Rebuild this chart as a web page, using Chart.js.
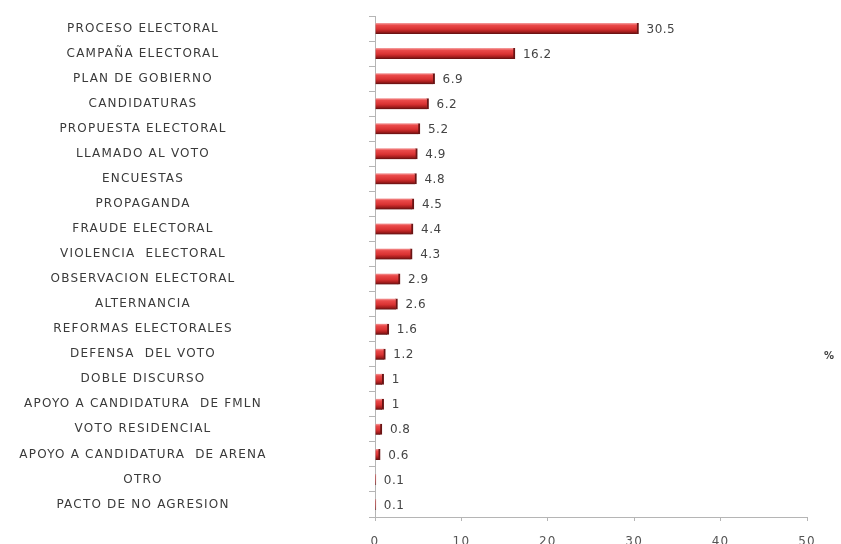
<!DOCTYPE html>
<html>
<head>
<meta charset="utf-8">
<script src="https://cdn.jsdelivr.net/npm/chart.js@4/dist/chart.umd.min.js"></script>
<style>
  html, body { margin: 0; padding: 0; background: #fff; }
  #wrap { width: 841px; height: 544px; position: relative; }
</style>
</head>
<body>
<div id="wrap"><canvas id="themesChart"></canvas></div>
<script>
// Temas de la campaña (%)
const categories = [
  'PROCESO ELECTORAL', 'CAMPAÑA ELECTORAL', 'PLAN DE GOBIERNO', 'CANDIDATURAS',
  'PROPUESTA ELECTORAL', 'LLAMADO AL VOTO', 'ENCUESTAS', 'PROPAGANDA',
  'FRAUDE ELECTORAL', 'VIOLENCIA  ELECTORAL', 'OBSERVACION ELECTORAL', 'ALTERNANCIA',
  'REFORMAS ELECTORALES', 'DEFENSA  DEL VOTO', 'DOBLE DISCURSO', 'APOYO A CANDIDATURA  DE FMLN',
  'VOTO RESIDENCIAL', 'APOYO A CANDIDATURA  DE ARENA', 'OTRO', 'PACTO DE NO AGRESION'
];
const percentages = [30.5, 16.2, 6.9, 6.2, 5.2, 4.9, 4.8, 4.5, 4.4, 4.3, 2.9, 2.6, 1.6, 1.2, 1, 1, 0.8, 0.6, 0.1, 0.1];
const xTicks = [0, 10, 20, 30, 40, 50];
const unitLabel = '%';

const labelFont = '12px "DejaVu Sans"';
const yAxisWidth = 375;
const labelCenter = 143;
const yTickLen = 6;
const barSize = 11;

// work out how far labels sit from the axis so they centre on labelCenter
const measureCtx = document.createElement('canvas').getContext('2d');
measureCtx.font = labelFont;
const widest = Math.max(...categories.map(c => measureCtx.measureText(c).width));
const labelPad = yAxisWidth - yTickLen - labelCenter - widest / 2;

function barGradient(ctx) {
  const chart = ctx.chart;
  const ys = chart.scales.y;
  if (ctx.type !== 'data' || !ys) return '#d83030';
  const yc = ys.getPixelForValue(ctx.dataIndex);
  if (!isFinite(yc)) return '#d83030';
  const g = chart.ctx.createLinearGradient(0, yc - barSize / 2, 0, yc + barSize / 2);
  g.addColorStop(0, '#f5a3a3');
  g.addColorStop(0.2, '#ea4a4a');
  g.addColorStop(0.55, '#d93232');
  g.addColorStop(0.8, '#a51d1d');
  g.addColorStop(1, '#5c1010');
  return g;
}

const spacingPlugin = {
  id: 'spacing',
  beforeDraw(chart) { chart.ctx.letterSpacing = '1.2px'; },
  beforeDatasetsDraw(chart) { chart.ctx.letterSpacing = '0px'; }
};

const valueLabels = {
  id: 'valueLabels',
  afterDatasetsDraw(chart) {
    const ctx = chart.ctx;
    const meta = chart.getDatasetMeta(0);
    ctx.save();
    ctx.letterSpacing = '0.5px';
    ctx.font = '12px "DejaVu Sans"';
    ctx.fillStyle = '#444';
    ctx.textAlign = 'left';
    ctx.textBaseline = 'middle';
    meta.data.forEach((bar, i) => {
      ctx.fillText(String(percentages[i]), bar.x + 8, bar.y + 1);
    });
    // unit marker on the right
    const area = chart.chartArea;
    ctx.font = 'bold 10px "DejaVu Sans"';
    ctx.fillStyle = '#404040';
    ctx.fillText(unitLabel, area.right + 17, chart.scales.y.getPixelForValue(13) + 2);
    ctx.restore();
  }
};

new Chart(document.getElementById('themesChart'), {
  type: 'bar',
  data: {
    labels: categories,
    datasets: [{
      data: percentages,
      backgroundColor: barGradient,
      borderColor: '#6a1414',
      borderWidth: { top: 0, left: 0, bottom: 0, right: 2 },
      borderSkipped: false,
      barThickness: barSize
    }]
  },
  options: {
    indexAxis: 'y',
    responsive: true,
    maintainAspectRatio: false,
    animation: false,
    layout: { padding: { top: 16, right: 34, left: 0, bottom: 0 } },
    plugins: {
      legend: { display: false },
      tooltip: { enabled: false }
    },
    scales: {
      x: {
        min: 0,
        max: 50,
        afterBuildTicks: scale => { scale.ticks = xTicks.map(v => ({ value: v })); },
        afterFit: scale => { scale.height = 27; },
        border: { color: '#b5b5b5' },
        grid: { drawOnChartArea: false, tickLength: 4, color: '#b5b5b5' },
        ticks: { color: '#555', font: { family: 'DejaVu Sans', size: 12 }, padding: 14 }
      },
      y: {
        afterFit: scale => {
          scale.width = yAxisWidth;
          scale.paddingTop = 0;
          scale.paddingBottom = 0;
        },
        border: { color: '#b5b5b5' },
        grid: { drawOnChartArea: false, tickLength: yTickLen, color: '#b5b5b5', offset: true },
        ticks: {
          crossAlign: 'center',
          padding: labelPad,
          autoSkip: false,
          color: '#3a3a3a',
          font: { family: 'DejaVu Sans', size: 12 }
        }
      }
    }
  },
  plugins: [spacingPlugin, valueLabels]
});
</script>
</body>
</html>
